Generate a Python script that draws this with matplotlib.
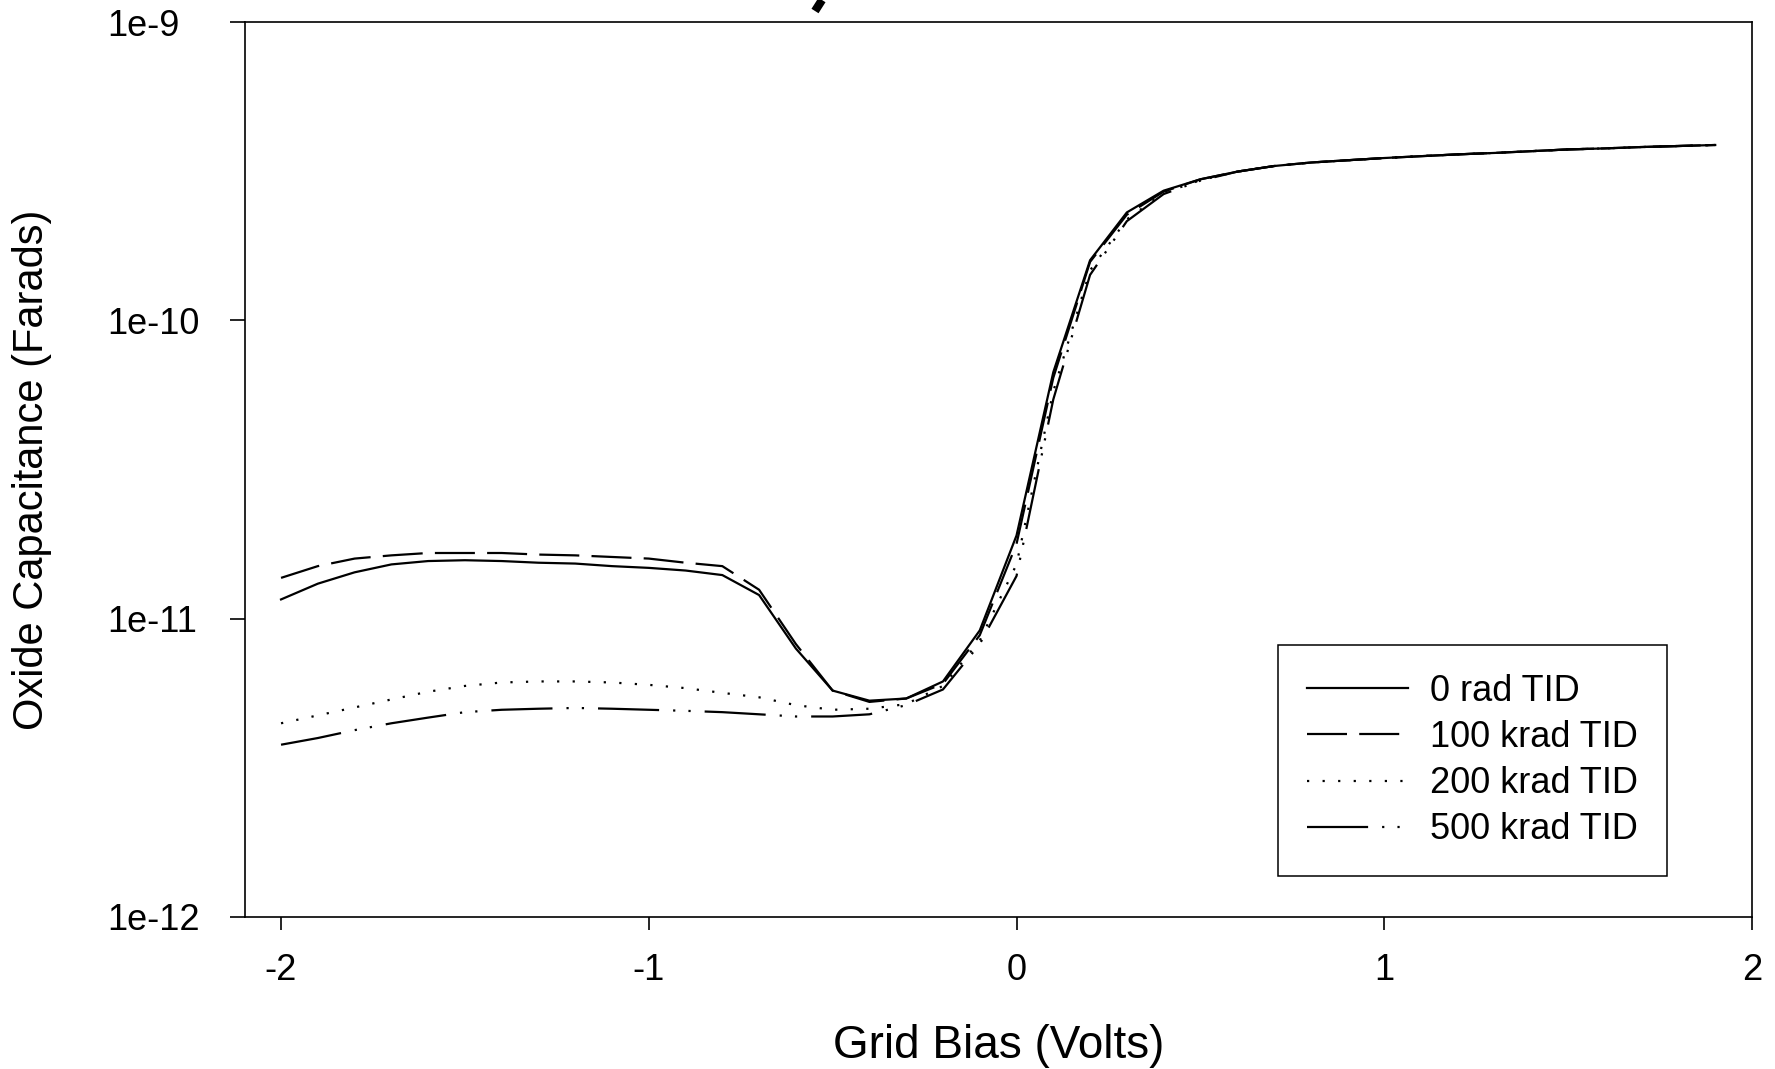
import numpy as np
import matplotlib
matplotlib.use("Agg")
import matplotlib.pyplot as plt
from matplotlib.lines import Line2D
from matplotlib.ticker import FixedLocator, NullLocator

plt.rcParams['font.family'] = ['Liberation Sans', 'DejaVu Sans']

# grid bias (V)
bias = [-2.0, -1.9, -1.8, -1.7, -1.6, -1.5, -1.4, -1.3, -1.2, -1.1,
        -1.0, -0.9, -0.8, -0.7, -0.6, -0.5, -0.4, -0.3, -0.2, -0.1,
        0.0, 0.1, 0.2, 0.3, 0.4, 0.5, 0.6, 0.7, 0.8, 0.9,
        1.0, 1.1, 1.2, 1.3, 1.4, 1.5, 1.6, 1.7, 1.8, 1.9]

# common accumulation branch (0.6 .. 1.9 V), Farads
tail = [3.15e-10, 3.29e-10, 3.38e-10, 3.44e-10, 3.50e-10, 3.55e-10, 3.60e-10,
        3.64e-10, 3.69e-10, 3.74e-10, 3.77e-10, 3.81e-10, 3.84e-10, 3.87e-10]

c_0rad = [1.16e-11, 1.31e-11, 1.43e-11, 1.52e-11, 1.56e-11, 1.57e-11, 1.56e-11,
          1.54e-11, 1.53e-11, 1.50e-11, 1.48e-11, 1.45e-11, 1.40e-11, 1.20e-11,
          7.94e-12, 5.74e-12, 5.31e-12, 5.40e-12, 6.16e-12, 9.13e-12,
          1.90e-11, 6.70e-11, 1.59e-10, 2.30e-10, 2.72e-10, 2.97e-10] + tail

c_100k = [1.37e-11, 1.50e-11, 1.59e-11, 1.63e-11, 1.66e-11, 1.66e-11, 1.66e-11,
          1.64e-11, 1.63e-11, 1.61e-11, 1.59e-11, 1.54e-11, 1.50e-11, 1.25e-11,
          8.22e-12, 5.74e-12, 5.26e-12, 5.40e-12, 6.05e-12, 8.80e-12,
          1.78e-11, 6.42e-11, 1.57e-10, 2.26e-10, 2.70e-10, 2.97e-10] + tail

c_200k = [4.46e-12, 4.74e-12, 5.04e-12, 5.36e-12, 5.69e-12, 5.95e-12, 6.11e-12,
          6.16e-12, 6.16e-12, 6.11e-12, 6.00e-12, 5.85e-12, 5.64e-12, 5.45e-12,
          5.13e-12, 4.95e-12, 4.99e-12, 5.17e-12, 5.95e-12, 8.44e-12,
          1.52e-11, 5.78e-11, 1.47e-10, 2.18e-10, 2.67e-10, 2.95e-10] + tail

c_500k = [3.78e-12, 3.98e-12, 4.23e-12, 4.46e-12, 4.66e-12, 4.86e-12, 4.95e-12,
          4.99e-12, 5.02e-12, 4.99e-12, 4.95e-12, 4.91e-12, 4.86e-12, 4.78e-12,
          4.70e-12, 4.70e-12, 4.78e-12, 5.13e-12, 5.79e-12, 8.22e-12,
          1.39e-11, 5.43e-11, 1.42e-10, 2.15e-10, 2.65e-10, 2.94e-10] + tail

labels = ['0 rad TID', '100 krad TID', '200 krad TID', '500 krad TID']
styles = ['-', (0, (18, 5.5)), (0, (1, 6)), (0, (27.5, 6.3, 1, 5.9, 1, 6.3))]

fig = plt.figure(figsize=(17.75, 10.69), dpi=100)
ax = fig.add_axes([245 / 1775, 1 - 917 / 1069, 1507 / 1775, 895 / 1069])

for c, ls, lab in zip([c_0rad, c_100k, c_200k, c_500k], styles, labels):
    ax.plot(bias, c, color='black', lw=1.6, linestyle=ls, label=lab)

ax.set_yscale('log')
ax.set_ylim(1e-12, 1e-9)
ax.set_xlim(-2.098, 2.0)
ax.yaxis.set_major_locator(FixedLocator([1e-12, 1e-11, 1e-10, 1e-9]))
ax.yaxis.set_minor_locator(NullLocator())
ax.set_yticklabels(['1e-12', '1e-11', '1e-10', '1e-9'])
ax.set_xticks([-2, -1, 0, 1, 2])
ax.set_xticklabels(['-2', '-1', '0', '1', '2'])

for s in ax.spines.values():
    s.set_linewidth(1.2)
ax.tick_params(axis='y', direction='out', length=11, width=1.2, labelsize=26, pad=88)
ax.tick_params(axis='x', direction='out', length=9, width=1.2, labelsize=26, pad=17)
for t in ax.get_yticklabels():
    t.set_horizontalalignment('left')

ax.set_xlabel('Grid Bias (Volts)', fontsize=33, labelpad=26)
ax.set_ylabel('Oxide Capacitance (Farads)', fontsize=30)
ax.yaxis.set_label_coords(-0.128, 0.5)

leg = ax.legend(loc='upper left', bbox_to_anchor=(0.6855, 0.304), borderaxespad=0,
                fontsize=26, frameon=True, fancybox=False, framealpha=1,
                edgecolor='black', handlelength=2.8, handletextpad=0.62,
                labelspacing=0.31, borderpad=0.8)
leg.get_frame().set_linewidth(1.1)

# fragment of a cropped title at the top edge
fig.add_artist(Line2D([822 / 1775, 815 / 1775], [1.0, 1 - 11 / 1069],
                      transform=fig.transFigure, color='black', lw=6,
                      solid_capstyle='butt'))

fig.savefig('out.png', dpi=100)
